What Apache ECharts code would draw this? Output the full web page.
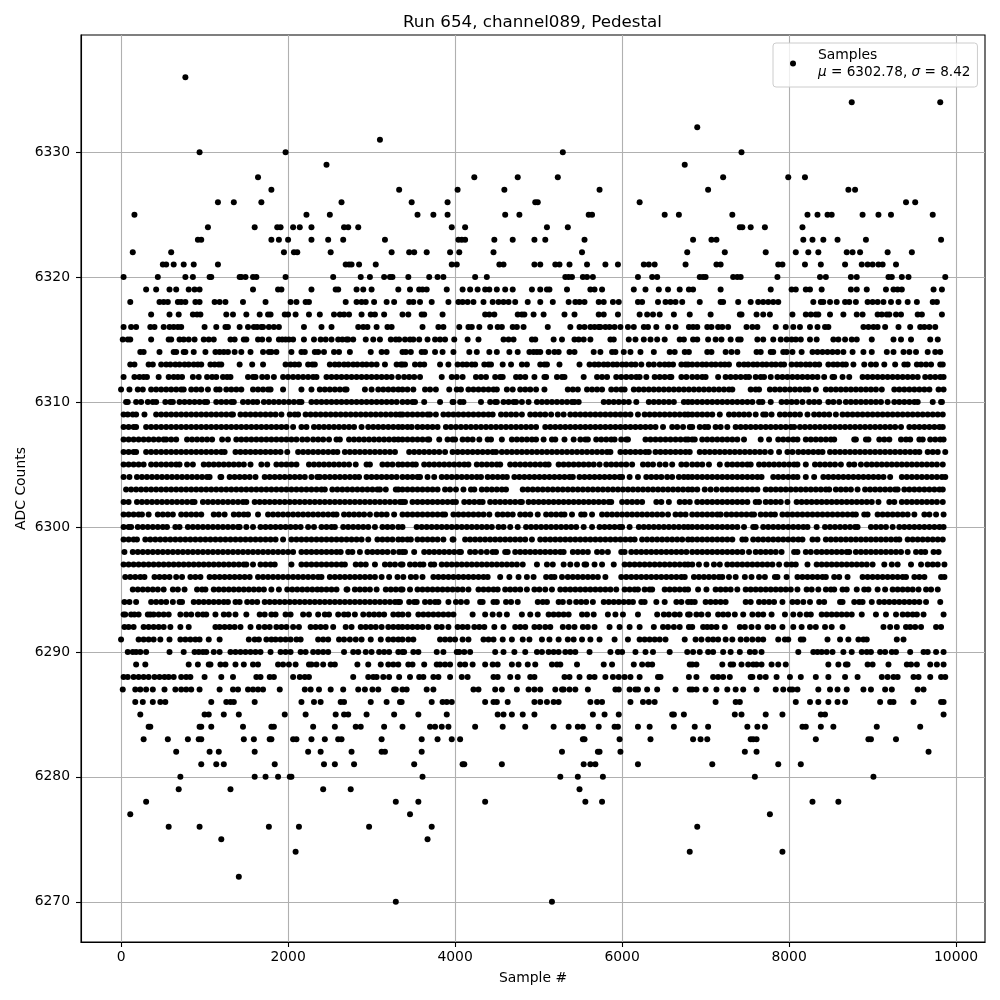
<!DOCTYPE html>
<html><head><meta charset="utf-8">
<script src="https://cdn.jsdelivr.net/npm/echarts@6/dist/echarts.min.js"></script>
<style>html,body{margin:0;background:#fff}#c{width:1000px;height:1000px}</style>
</head><body><div id="c"></div>
<script>
// Sample positions, one array per ADC level, in tens of samples.
const L6336=[77];
const L6334=[875,981];
const L6332=[690];
const L6331=[310];
const L6330=[94,197,529,743];
const L6329=[246,675];
const L6328=[164,423,475,523,721,799,819];
const L6327=[180,333,403,459,573,703,871,879];
const L6326=[116,135,168,264,348,391,496,499,621,940,951];
const L6325=[16,222,250,355,374,391,460,477,560,564,651,668,732,822,834,846,851,888,907,922,972];
const L6324=[104,160,187,191,206,214,228,267,272,284,396,412,510,535,741,744,754,771,816];
const L6323=[92,96,180,189,200,228,248,266,316,404,408,412,447,469,495,508,555,685,707,713,817,828,841,858,892,982];
const L6322=[14,60,195,207,211,251,324,345,351,366,394,405,446,552,678,723,772,808,823,835,869,876,885,918,947];
const L6321=[50,54,63,75,87,116,269,273,276,285,305,396,402,453,458,495,502,520,525,537,558,580,595,626,632,639,676,713,718,787,792,819,838,867,887,894,900,907,912,928];
const L6320=[3,44,77,86,106,108,142,144,149,158,162,197,254,287,298,315,322,325,344,369,379,386,424,438,532,536,540,553,558,565,619,636,642,693,697,700,733,738,742,786,837,844,874,881,919,923,935,943,987];
const L6319=[30,42,58,66,81,88,94,158,188,192,228,257,260,282,290,300,332,346,357,361,366,390,409,418,427,436,441,450,460,469,492,502,510,513,534,562,567,576,614,628,644,655,669,680,685,718,778,803,808,820,825,839,874,881,893,916,925,930,935,973,983];
const L6318=[11,46,51,56,68,72,77,89,94,112,118,125,146,173,203,210,221,225,269,282,288,293,303,318,327,345,350,358,372,392,404,409,415,422,434,445,452,458,464,472,487,502,517,536,544,549,555,572,578,589,596,619,624,643,652,658,664,672,693,718,721,739,754,763,769,775,781,787,829,838,841,849,857,867,872,880,894,900,906,913,922,931,942,953,972,977];
const L6317=[36,58,69,86,91,95,126,134,150,166,176,179,196,200,209,225,238,255,262,267,273,288,299,304,315,337,344,360,363,385,436,441,447,475,480,483,494,506,531,543,572,578,595,621,630,637,645,662,681,706,741,743,761,769,777,804,820,826,832,835,849,865,881,888,906,911,917,920,928,934,954,959,983];
const L6316=[3,12,18,35,40,51,58,63,68,72,100,114,125,128,142,152,159,163,168,170,177,183,189,219,240,252,284,290,295,306,319,324,361,380,386,405,416,420,429,442,451,456,469,474,482,511,538,549,555,562,567,572,574,580,585,591,598,607,614,626,631,641,655,664,680,685,690,702,707,715,720,727,749,756,762,784,796,805,813,825,834,843,847,889,895,901,906,915,931,945,957,962,968,975];
const L6315=[2,8,11,36,57,60,70,75,81,88,99,105,111,131,136,147,150,164,169,177,189,193,197,201,206,219,231,239,245,252,260,265,270,272,278,293,302,310,323,329,333,340,346,350,357,367,376,382,388,399,415,428,458,464,470,492,496,518,528,543,548,554,562,586,590,608,616,626,634,642,651,669,674,685,690,703,712,719,730,739,742,762,769,781,790,797,803,808,814,825,833,853,859,867,875,881,899,925,934,946,969,978];
const L6314=[23,27,46,63,66,75,77,87,101,113,118,123,128,136,144,155,170,177,180,186,204,216,220,232,236,243,255,261,274,299,312,318,337,341,347,360,364,376,385,398,417,426,441,450,465,475,489,494,498,502,512,519,524,537,543,566,574,588,592,602,610,622,638,657,663,675,680,702,707,724,731,738,761,766,778,781,793,797,804,815,828,834,840,846,852,858,865,876,889,899,917,925,937,944,952,966,975,981];
const L6313=[11,16,33,38,48,54,59,65,70,76,81,87,92,96,107,112,117,120,142,157,170,197,203,208,213,224,229,232,250,256,261,267,272,278,283,289,294,300,306,316,330,335,337,340,352,358,363,382,392,403,409,414,420,424,435,440,443,457,467,480,486,502,507,510,525,549,561,567,572,578,583,589,594,600,605,611,616,623,632,638,645,651,656,661,671,676,679,684,690,696,701,707,712,718,723,728,740,746,751,757,762,768,773,779,784,790,794,803,809,814,820,825,831,836,847,853,858,864,868,877,890,898,904,914,927,938,942,953,958,964,970,981,984];
const L6312=[3,16,22,27,31,45,57,63,68,73,86,93,103,109,114,122,127,131,152,158,161,169,175,183,194,200,206,212,218,224,230,234,246,252,258,264,270,276,282,288,294,300,306,312,318,324,332,339,345,351,358,384,396,402,409,425,431,437,448,454,457,473,478,484,495,507,509,522,528,531,554,570,576,582,593,599,605,611,617,621,629,639,645,651,657,659,671,677,684,690,696,700,715,724,730,736,742,748,752,760,766,770,778,786,792,798,804,810,816,822,828,834,842,852,854,864,872,888,894,900,906,912,918,924,930,936,942,948,954,963,969,975,981,985];
const L6311=[0,10,20,26,36,42,48,54,60,66,72,75,84,90,96,104,114,118,126,132,138,144,158,164,170,176,179,194,216,228,238,244,250,256,262,268,270,292,300,308,314,320,326,332,337,343,350,364,370,377,393,402,407,416,422,428,434,440,446,450,462,469,478,484,490,497,507,535,541,547,558,564,570,576,587,593,599,603,614,620,626,632,638,644,650,656,662,668,674,680,686,692,698,704,710,716,722,728,732,754,760,764,777,783,789,795,801,807,813,819,823,832,844,850,856,862,868,874,880,886,892,898,904,911,926,932,938,944,950,956,962,968,979,985];
const L6310=[6,8,18,24,32,38,42,53,59,62,70,76,82,88,94,100,103,114,120,126,132,135,146,152,158,163,171,177,183,189,195,201,207,213,216,228,234,240,246,252,258,264,270,276,282,288,294,300,306,312,318,324,330,337,343,349,352,363,382,397,398,406,410,431,442,448,450,458,464,470,473,480,488,498,504,510,516,522,528,534,540,543,548,578,584,590,596,602,608,617,632,638,644,650,656,662,674,679,684,690,696,702,708,714,720,726,732,738,744,750,756,764,768,778,791,797,803,809,816,824,830,836,847,853,860,868,874,880,886,892,898,904,910,918,926,932,938,944,950,954,972,982,983];
const L6309=[3,8,14,18,28,42,48,54,60,66,72,78,84,90,96,102,108,114,120,126,132,134,143,149,155,161,167,173,179,185,192,202,208,212,221,227,233,239,245,251,257,263,269,275,281,287,293,299,305,311,317,323,329,334,337,343,349,355,361,367,370,377,386,392,398,404,410,416,422,428,434,440,445,455,461,467,473,480,490,496,502,508,515,523,530,538,544,550,556,562,568,574,580,586,592,598,604,610,619,627,633,639,645,651,657,663,669,675,679,684,690,696,702,708,717,728,734,740,746,752,760,769,772,779,789,795,801,807,813,822,830,836,842,848,856,864,870,876,882,888,894,900,906,912,918,924,930,936,942,948,954,960,966,972,978,984];
const L6308=[3,9,15,18,30,36,42,48,54,60,66,72,78,84,90,96,102,108,114,120,126,132,138,144,150,156,162,168,174,180,186,192,198,206,216,222,231,237,243,249,255,261,267,273,279,288,296,302,308,314,320,326,332,337,343,348,355,361,367,373,379,389,395,401,407,413,419,425,431,437,443,449,455,461,467,473,479,485,491,497,508,514,520,526,532,538,544,550,556,562,568,574,580,586,592,598,604,610,616,622,628,634,640,649,660,666,673,681,684,693,699,703,712,718,726,736,742,748,754,760,766,772,778,784,790,796,802,806,813,819,825,831,837,843,849,855,861,867,873,879,885,891,897,903,909,915,921,927,934,944,950,956,962,968,974,980,984];
const L6307=[3,9,15,21,27,33,39,45,51,54,60,66,79,85,91,97,103,109,121,128,138,144,150,156,162,168,174,180,186,192,198,204,210,217,223,230,236,242,249,258,262,273,279,285,291,297,303,309,315,321,327,332,337,343,349,355,361,367,369,381,391,397,400,409,415,421,429,439,443,456,468,474,480,486,492,497,506,516,520,531,542,550,556,559,569,575,581,587,591,599,605,607,628,634,640,646,652,658,664,670,676,679,684,687,696,702,708,714,720,726,732,738,746,766,776,787,793,799,805,810,820,826,832,838,844,850,854,878,880,892,895,908,914,920,934,940,945,956,960,969,975,981,985];
const L6306=[3,9,15,18,30,36,42,48,54,60,66,72,78,84,90,96,102,108,114,120,124,137,143,149,155,161,167,173,179,185,191,199,212,218,224,230,236,242,248,254,259,268,274,280,286,292,298,304,310,316,322,328,345,351,357,363,369,375,381,388,397,403,409,415,421,427,433,439,445,449,456,462,468,474,480,486,492,498,504,510,516,522,528,534,540,546,552,558,564,570,576,582,586,598,604,610,616,622,628,632,640,646,652,658,664,670,676,681,693,699,705,711,717,723,729,735,741,747,753,759,765,771,778,788,798,804,811,817,823,829,835,840,849,855,861,867,873,879,885,891,897,903,909,915,921,927,933,939,945,951,956,966,972,978,987];
const L6305=[3,9,15,21,27,36,42,48,54,60,66,70,79,86,99,105,111,117,123,129,135,141,147,155,168,175,186,192,198,204,210,225,231,237,243,249,255,261,267,273,281,294,298,313,319,325,332,337,343,349,353,363,369,375,381,387,393,399,405,411,416,426,432,438,444,450,454,466,472,478,484,490,496,502,508,512,524,530,536,542,548,554,560,566,573,581,587,593,599,605,612,625,631,637,645,652,660,671,677,684,690,696,704,717,726,732,738,744,750,754,764,770,776,782,788,794,800,806,810,820,831,837,843,849,855,862,872,878,886,893,899,905,911,917,923,929,935,941,947,953,959,965,971,977,984];
const L6304=[3,10,19,25,31,37,43,49,55,61,67,73,79,85,91,97,103,106,119,120,130,136,142,148,154,161,172,178,184,190,196,202,208,214,220,228,235,238,244,250,256,262,268,274,280,285,294,300,306,312,318,324,330,337,343,349,355,358,367,375,384,390,396,402,408,414,420,426,431,439,445,451,457,462,471,477,483,489,495,501,507,513,519,525,531,537,541,549,555,561,567,573,579,585,591,597,600,609,619,629,635,641,647,654,660,668,674,679,684,690,696,702,708,714,720,726,732,738,744,750,756,762,767,781,787,793,799,805,810,820,830,841,847,853,859,865,871,877,883,889,895,901,907,913,921,935,941,947,953,959,965,971,977,983,987];
const L6303=[6,12,18,24,30,36,42,48,54,60,66,72,78,84,90,96,102,108,114,120,126,132,138,144,150,156,162,168,174,180,186,192,198,204,210,216,222,228,234,240,244,253,259,265,271,277,283,289,295,301,307,310,317,329,332,337,343,349,355,361,367,373,379,388,394,401,410,419,423,432,438,444,450,456,461,481,487,493,499,505,511,517,523,529,535,541,547,553,559,565,571,577,583,589,595,601,607,613,619,625,631,637,643,649,655,661,667,673,679,684,690,699,706,713,720,726,732,738,744,750,756,762,772,778,784,790,796,802,808,814,820,826,832,838,844,848,856,862,868,874,882,891,897,903,909,915,921,927,930,938,944,950,956,962,968,974,980,984];
const L6302=[3,9,19,25,31,37,43,49,55,61,67,73,79,85,88,98,104,110,116,122,128,134,140,146,150,160,166,172,178,184,190,196,202,208,214,220,226,232,238,244,250,256,262,268,274,280,286,292,298,304,310,316,322,328,334,337,340,349,355,361,367,373,379,385,391,397,401,411,417,423,429,433,442,448,454,460,466,472,478,480,488,494,500,506,512,518,524,530,536,542,548,554,560,566,572,578,584,587,600,606,612,618,624,641,647,656,669,675,681,690,696,702,708,714,720,726,732,738,744,750,760,764,772,778,784,790,798,809,815,821,827,833,839,845,851,857,863,869,875,881,887,893,899,907,920,926,935,941,947,953,959,965,971,977,984];
const L6301=[3,9,15,21,25,33,44,50,56,62,72,78,84,90,96,111,117,124,135,141,147,152,164,176,182,188,194,200,206,212,218,224,230,236,242,248,254,258,267,273,279,285,291,298,306,312,318,327,337,343,349,355,361,367,373,379,385,388,398,404,410,416,422,428,434,441,451,457,463,469,478,484,490,499,509,515,521,527,531,540,551,555,564,576,582,588,594,600,606,612,618,624,630,636,642,648,655,664,670,676,684,690,696,702,708,714,718,725,731,737,743,749,755,758,766,772,778,783,792,798,804,810,816,822,828,834,840,846,852,858,864,870,876,880,890,894,906,912,918,924,930,936,942,950,962,968,976,985];
const L6300=[3,9,12,20,26,32,38,44,50,55,65,70,80,86,92,98,104,110,116,122,128,134,140,142,150,158,167,173,179,185,191,197,203,209,215,224,231,240,246,252,256,266,272,278,284,290,296,304,313,319,325,332,337,354,360,366,372,378,384,390,396,402,408,414,420,426,432,438,444,452,458,466,475,485,491,497,503,509,515,521,527,533,539,545,554,564,573,579,585,591,597,600,609,620,626,632,638,644,650,656,662,668,674,679,684,690,696,702,708,714,720,726,732,738,746,757,760,769,775,781,787,793,799,805,811,817,822,833,843,849,855,861,867,873,879,882,898,904,910,916,924,932,938,944,950,956,962,968,974,980,985];
const L6299=[3,9,15,19,29,35,41,47,53,59,65,71,77,83,89,95,101,107,113,119,125,131,137,143,149,155,161,167,173,179,185,194,204,210,216,222,228,234,240,246,252,258,264,270,276,282,288,296,307,313,319,325,332,337,343,347,355,361,367,373,379,386,397,398,412,418,424,430,436,442,448,454,460,466,472,478,484,492,502,508,514,520,526,532,538,544,550,556,562,568,574,580,586,592,598,604,610,615,624,630,636,642,648,654,660,666,672,679,684,690,696,702,708,714,720,726,732,744,748,757,763,769,775,781,787,793,799,805,811,816,828,834,844,850,856,862,868,874,880,886,892,898,904,910,916,922,928,932,942,948,954,960,966,972,978,984];
const L6298=[4,14,20,26,32,38,44,50,56,62,68,74,80,86,92,98,104,110,116,122,128,134,140,146,152,158,164,170,176,182,188,194,200,206,216,222,228,234,240,246,252,258,263,272,277,286,295,301,307,313,319,326,333,337,340,351,363,369,375,381,387,393,399,405,407,418,424,431,438,445,449,460,463,472,478,484,490,496,502,508,514,520,526,530,541,547,553,559,570,576,583,599,603,611,617,623,629,635,641,647,653,659,665,671,677,684,690,696,702,708,714,720,726,732,738,744,752,760,766,772,778,784,791,806,810,820,826,833,839,845,851,857,863,869,872,880,886,892,898,904,910,916,922,928,934,942,952,958,963,973,979];
const L6297=[3,9,15,21,27,33,39,45,51,57,63,69,75,81,87,93,99,105,111,117,123,129,135,141,147,150,158,167,173,179,184,204,216,222,228,234,240,246,252,258,264,268,281,287,293,304,316,322,328,335,337,346,352,358,362,371,375,384,390,396,402,408,414,420,426,432,438,444,450,456,462,468,474,481,498,510,517,530,538,546,555,557,567,576,590,603,609,615,621,627,633,639,645,651,657,663,669,675,679,684,692,701,710,717,726,732,738,744,750,756,762,768,774,780,788,797,803,808,822,833,839,845,851,857,863,869,875,881,887,893,900,914,923,930,946,958,966,972,978,986];
const L6296=[5,11,17,23,28,40,46,52,58,66,73,83,89,95,106,112,118,124,130,136,142,148,154,164,170,176,182,188,194,200,206,212,218,224,230,236,240,250,256,262,268,274,280,286,292,298,304,312,321,331,338,347,353,361,374,380,386,392,398,404,410,416,422,428,434,439,454,465,476,486,494,509,515,519,528,535,541,547,553,559,565,571,580,599,605,611,617,623,629,635,641,647,653,659,665,671,675,686,692,698,704,710,716,720,728,736,747,755,764,771,783,786,797,810,816,822,828,834,840,844,854,860,870,888,894,900,906,912,918,924,930,936,940,950,956,962,982,986];
const L6295=[14,20,26,32,38,44,51,62,68,76,91,97,101,111,117,123,129,135,141,147,153,159,165,171,180,189,199,205,211,217,223,229,235,240,246,252,258,270,271,280,286,292,298,306,317,323,329,335,337,346,355,361,367,373,379,385,391,397,403,409,416,428,434,440,446,451,460,466,472,478,486,495,501,508,516,526,532,538,544,550,556,562,568,574,580,586,593,603,609,615,619,627,633,636,651,657,663,669,675,679,691,701,712,718,724,730,738,748,754,760,766,772,778,784,790,796,802,810,821,827,835,844,850,854,864,869,881,890,895,906,915,924,930,936,942,948,955,964,970,978];
const L6294=[4,10,18,36,42,48,54,62,70,73,87,93,99,105,111,117,123,128,137,142,151,157,163,172,178,184,190,196,202,208,214,220,226,232,238,244,250,256,262,268,274,280,286,292,298,304,310,316,322,328,332,334,345,351,354,364,370,376,380,392,401,407,414,430,433,446,450,461,467,475,499,505,510,524,529,537,545,551,557,565,578,584,590,596,602,608,613,623,627,641,651,665,671,679,683,687,700,706,712,718,724,748,754,764,770,776,782,792,804,810,817,825,836,842,861,864,878,884,888,899,908,914,920,926,932,938,944,950,956,964,981];
const L6293=[3,5,12,16,21,32,35,39,45,51,57,71,78,84,92,98,102,113,123,129,137,150,166,172,180,185,197,203,218,225,236,244,249,260,267,272,280,290,297,303,309,315,326,332,337,344,356,362,368,374,380,386,392,398,421,436,445,453,462,480,490,499,512,518,524,530,536,552,558,566,583,592,601,619,642,650,656,663,669,679,681,689,695,703,715,721,727,735,745,756,763,769,779,795,805,813,821,826,839,845,851,857,863,869,875,887,904,916,928,936,942,948,953,961,985];
const L6292=[4,9,15,27,33,39,45,51,59,71,81,113,118,124,130,136,143,155,165,172,178,186,192,198,206,213,227,233,239,245,254,269,276,287,293,299,305,312,320,326,332,337,343,349,355,361,368,378,384,392,403,409,415,423,429,435,447,458,472,478,484,495,501,508,514,529,536,543,553,559,567,585,597,609,621,638,649,655,662,669,680,684,697,702,707,713,723,741,747,755,763,774,781,792,805,815,825,832,843,851,864,913,921,929,940,945,951,958,976,982];
const L6291=[0,21,27,33,39,47,58,71,77,83,89,94,105,118,153,160,165,174,180,185,191,197,203,210,215,236,242,248,261,267,274,281,288,299,311,320,326,332,337,344,350,382,388,394,400,409,416,434,440,446,457,468,481,489,504,513,524,535,542,552,562,573,591,607,621,627,633,639,645,652,675,688,695,703,709,715,724,732,742,749,756,763,769,787,795,799,814,817,846,861,871,883,889,893,929,937];
const L6290=[8,14,18,23,30,58,75,88,93,98,102,111,118,131,137,143,149,155,161,167,179,191,197,203,215,221,230,236,242,248,267,278,284,293,300,309,315,321,332,337,339,350,356,378,386,402,405,411,418,448,458,471,484,498,504,512,518,524,532,538,544,561,586,595,600,616,628,637,657,678,685,693,703,709,721,730,741,753,759,767,811,829,834,839,845,852,865,875,887,893,898,909,915,923,928,945,961,966,976,985];
const L6289=[18,29,81,92,105,107,119,125,137,147,158,164,188,194,201,209,225,228,234,242,251,256,283,296,311,320,326,332,344,349,363,378,382,388,394,406,412,421,436,445,451,468,476,487,496,516,522,526,546,578,588,614,624,631,636,681,684,689,720,730,733,743,751,757,761,767,779,787,796,847,859,868,870,894,900,919,941,946,953,969,977,985];
const L6288=[3,8,15,21,27,33,40,46,52,57,63,72,78,83,100,120,134,162,167,178,183,206,214,220,225,278,296,302,306,314,321,333,346,357,362,374,380,394,408,415,446,451,466,475,490,495,531,537,549,561,567,580,589,596,603,610,621,643,646,680,689,709,715,721,729,754,756,765,772,785,801,814,832,847,867,882,911,918,925,930,949,955,969,982,987];
const L6287=[2,17,23,30,38,52,65,72,78,84,94,118,134,140,152,158,164,170,190,220,227,237,251,266,284,292,301,308,327,329,337,342,366,374,422,428,448,456,474,488,495,502,520,528,530,537,544,559,592,596,609,616,619,630,642,664,681,684,689,700,713,726,736,745,761,784,793,801,804,810,835,849,858,869,889,898,915,923,954,961];
const L6286=[17,26,38,47,53,108,126,131,135,160,216,231,239,263,267,299,318,334,336,372,385,390,396,436,446,450,463,495,502,510,518,524,562,570,576,610,625,632,639,712,736,741,808,825,835,847,858,867,909,921,925,949,982,985];
const L6285=[23,100,105,123,141,196,221,257,267,272,294,327,356,390,451,458,468,481,495,565,579,596,660,662,674,735,743,772,792,838,843,985];
const L6284=[33,35,94,96,108,146,180,183,230,256,281,287,315,337,370,376,384,392,424,457,484,518,536,547,553,572,591,595,619,633,662,687,703,750,762,771,816,820,838,853,905,957];
const L6283=[27,56,80,93,96,147,159,178,180,206,210,228,244,260,264,312,360,379,396,406,553,555,597,634,685,694,702,754,757,761,832,895,898,928];
const L6282=[66,106,117,160,224,239,276,312,316,360,528,571,573,598,747,761,967];
const L6281=[96,114,123,184,243,256,279,351,409,411,456,554,562,568,619,708,787,814];
const L6280=[71,160,173,188,202,204,361,526,547,577,759,901];
const L6279=[69,131,242,275,549];
const L6278=[30,329,356,436,556,576,828,859];
const L6277=[11,346,777];
const L6276=[57,94,177,213,297,372,690];
const L6275=[120,367];
const L6274=[209,681,792];
const L6272=[141];
const L6270=[329,516];

const adcRows=[[6336,L6336],[6334,L6334],[6332,L6332],[6331,L6331],[6330,L6330],[6329,L6329],[6328,L6328],[6327,L6327],[6326,L6326],[6325,L6325],[6324,L6324],[6323,L6323],[6322,L6322],[6321,L6321],[6320,L6320],[6319,L6319],[6318,L6318],[6317,L6317],[6316,L6316],[6315,L6315],[6314,L6314],[6313,L6313],[6312,L6312],[6311,L6311],[6310,L6310],[6309,L6309],[6308,L6308],[6307,L6307],[6306,L6306],[6305,L6305],[6304,L6304],[6303,L6303],[6302,L6302],[6301,L6301],[6300,L6300],[6299,L6299],[6298,L6298],[6297,L6297],[6296,L6296],[6295,L6295],[6294,L6294],[6293,L6293],[6292,L6292],[6291,L6291],[6290,L6290],[6289,L6289],[6288,L6288],[6287,L6287],[6286,L6286],[6285,L6285],[6284,L6284],[6283,L6283],[6282,L6282],[6281,L6281],[6280,L6280],[6279,L6279],[6278,L6278],[6277,L6277],[6276,L6276],[6275,L6275],[6274,L6274],[6272,L6272],[6270,L6270]];
const xTicks=[0,2000,4000,6000,8000,10000];
const yTicks=[6270,6280,6290,6300,6310,6320,6330];
const titleText='Run 654, channel089, Pedestal';
const xName='Sample #';
const yName='ADC Counts';
const seriesName='Samples';

const points=[];
adcRows.forEach(([level,xs])=>xs.forEach(x=>points.push([x*10,level])));

const FONT='"DejaVu Sans"';
const gridLine={show:true,lineStyle:{color:'#b0b0b0',width:1.1}};
const axisBase={
  axisLine:{show:true,onZero:false,lineStyle:{color:'#000',width:1.1}},
  splitLine:gridLine,
  nameLocation:'middle',
  nameMoveOverlap:false,
  nameTextStyle:{color:'#000',fontFamily:FONT,fontSize:13.9}
};
const plain=v=>String(v);
const chart=echarts.init(document.getElementById('c'),null,{renderer:'canvas',width:1000,height:1000});
chart.setOption({
  animation:false,
  backgroundColor:'#fff',
  title:{text:titleText,left:527.5,top:9,textAlign:'center',
    textStyle:{color:'#000',fontFamily:FONT,fontSize:16.7,fontWeight:'normal'}},
  grid:{left:81,right:15,top:35,bottom:58,show:true,borderColor:'#000',borderWidth:1.1,backgroundColor:'#fff'},
  xAxis:Object.assign({},axisBase,{type:'value',min:-480,max:10346,name:xName,nameGap:29,
    axisTick:{show:true,length:5,customValues:xTicks,lineStyle:{color:'#000',width:1.1}},
    axisLabel:{customValues:xTicks,formatter:plain,color:'#000',fontFamily:FONT,fontSize:13.9,margin:8,showMinLabel:true,showMaxLabel:true}}),
  yAxis:Object.assign({},axisBase,{type:'value',scale:true,min:6266.78,max:6339.38,name:yName,nameGap:53,
    axisTick:{show:true,length:5,customValues:yTicks,lineStyle:{color:'#000',width:1.1}},
    axisLabel:{customValues:yTicks,formatter:plain,color:'#000',fontFamily:FONT,fontSize:13.9,margin:11}}),
  legend:{
    left:773,top:43,orient:'vertical',selectedMode:false,
    padding:[5,7,8,17],
    backgroundColor:'rgba(255,255,255,0.8)',borderColor:'#ccc',borderWidth:1,borderRadius:3,
    itemWidth:6,itemHeight:6,
    data:[{name:seriesName,icon:'circle'}],
    formatter:()=>'{r|Samples}\n{i|μ}{s| = 6302.78, }{i|σ}{s| = 8.42}',
    textStyle:{padding:[0,0,0,17],color:'#000',fontFamily:FONT,fontSize:13.9,
      rich:{r:{fontFamily:FONT,fontSize:13.9,color:'#000',lineHeight:17},
            s:{fontFamily:FONT,fontSize:13.6,color:'#000',lineHeight:17},
            i:{fontFamily:FONT,fontSize:13.6,fontStyle:'italic',color:'#000',lineHeight:17}}}
  },
  series:[{name:seriesName,type:'scatter',data:points,symbol:'circle',symbolSize:6,
    itemStyle:{color:'#000',opacity:1},large:false,progressive:0,silent:true,z:3}]
});
</script></body></html>
